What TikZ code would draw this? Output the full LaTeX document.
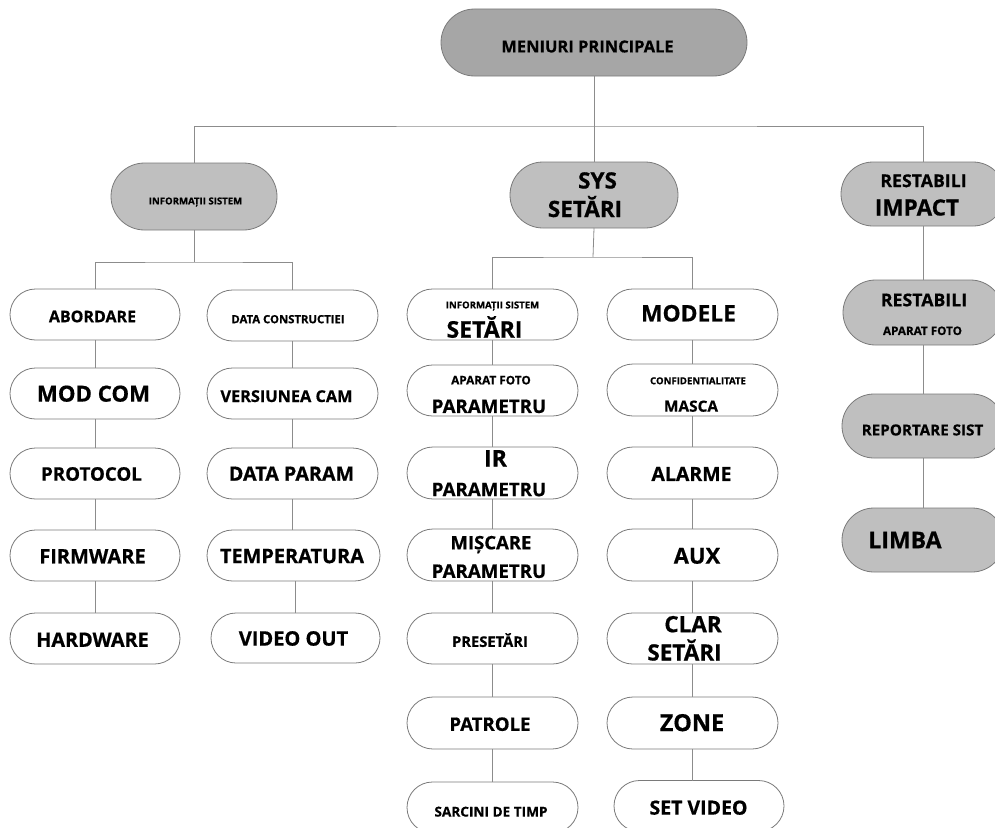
\documentclass[tikz,border=0pt]{standalone}
\usepackage{fontspec}
\setmainfont{Open Sans}[BoldFeatures={FakeBold=0.6}]
\usetikzlibrary{shapes.misc}
\definecolor{darkfill}{HTML}{A6A6A6}
\definecolor{lightfill}{HTML}{BFBFBF}
\definecolor{edgegray}{HTML}{7A7A7A}
\definecolor{linegray}{HTML}{8C8C8C}
\tikzset{
  pill/.style={rounded rectangle, draw=edgegray, line width=0.8bp, inner sep=0pt, outer sep=0pt},
  rootbox/.style={pill, fill=darkfill},
  graybox/.style={pill, fill=lightfill},
  whitebox/.style={pill, fill=white},
  conn/.style={draw=linegray, line width=0.8bp},
  lbl/.style={anchor=base, inner sep=0pt, outer sep=0pt}
}
% box: style, name, cx, cy, width, height
\newcommand\bx[6]{\node[#1, minimum width=#5bp, minimum height=#6bp] (#2) at (#3,#4) {};}
% text: name, cx, cy (cap centre), size, text
\newcommand\tx[5]{\node[lbl, font=\bfseries\fontsize{#4bp}{#4bp}\selectfont] (#1) at ({#2},{#3+0.357*#4}) {#5};}
\begin{document}
\begin{tikzpicture}[x=1bp,y=-1bp]
\useasboundingbox (0,0) rectangle (995,828);
\coordinate (b0) at (594,126);
\coordinate (b1) at (194,262);
\coordinate (b2) at (593,257);
% boxes
\bx{rootbox}{root}{594}{42.5}{306}{67}
\bx{graybox}{info}{194}{196.5}{166}{67}
\bx{graybox}{sys}{594}{195}{168}{66}
\bx{graybox}{r1}{923}{194}{164}{64}
\bx{graybox}{r2}{923}{312.5}{160}{65}
\bx{graybox}{r3}{923}{426}{162}{64}
\bx{graybox}{r4}{923}{540}{162}{64}
% left subtree
\bx{whitebox}{a1}{95}{314.5}{170}{51}
\bx{whitebox}{a2}{95}{393.5}{170}{51}
\bx{whitebox}{a3}{95}{473.5}{170}{51}
\bx{whitebox}{a4}{95}{555.5}{170}{51}
\bx{whitebox}{a5}{95}{638.5}{170}{51}
\bx{whitebox}{d1}{292.5}{315.5}{171}{51}
\bx{whitebox}{d2}{292.5}{393.5}{171}{51}
\bx{whitebox}{d3}{292.5}{473.5}{171}{51}
\bx{whitebox}{d4}{293.5}{555.5}{173}{51}
\bx{whitebox}{d5}{295.5}{638}{169}{50}
% middle subtree
\bx{whitebox}{m1}{492.5}{314.5}{171}{51}
\bx{whitebox}{m2}{492.5}{390.5}{171}{51}
\bx{whitebox}{m3}{492.5}{473}{171}{52}
\bx{whitebox}{m4}{492.5}{555}{171}{52}
\bx{whitebox}{m5}{492.5}{638.5}{171}{51}
\bx{whitebox}{m6}{492.5}{723}{171}{52}
\bx{whitebox}{m7}{492.5}{807.5}{171}{51}
\bx{whitebox}{n1}{692.5}{314.5}{171}{51}
\bx{whitebox}{n2}{692.5}{390}{171}{52}
\bx{whitebox}{n3}{692.5}{473}{171}{52}
\bx{whitebox}{n4}{692.5}{555}{171}{52}
\bx{whitebox}{n5}{692.5}{638.5}{171}{51}
\bx{whitebox}{n6}{692.5}{723}{171}{52}
\bx{whitebox}{n7}{699}{806}{170}{51}
% connectors
\draw[conn] (root.south) -- (b0);
\draw[conn] (info.north) |- (b0) -| (r1.north);
\draw[conn] (b0) -- (sys.north);
\draw[conn] (info.south) -- (b1);
\draw[conn] (a1.north) |- (b1) -| (d1.north);
\draw[conn] (sys.south) -- (b2);
\draw[conn] (m1.north) |- (b2) -| (n1.north);
\draw[conn] (a1.south) -- (a2.north);
\draw[conn] (a2.south) -- (a3.north);
\draw[conn] (a3.south) -- (a4.north);
\draw[conn] (a4.south) -- (a5.north);
\draw[conn] (d1.south) -- (d2.north);
\draw[conn] (d2.south) -- (d3.north);
\draw[conn] (d3.south) -- (d3.south |- d4.north);
\draw[conn] (d5.north) -- (d5.north |- d4.south);
\draw[conn] (m1.south) -- (m2.north);
\draw[conn] (m2.south) -- (m3.north);
\draw[conn] (m3.south) -- (m4.north);
\draw[conn] (m4.south) -- (m5.north);
\draw[conn] (m5.south) -- (m6.north);
\draw[conn] (m6.south) -- (m7.north);
\draw[conn] (n1.south) -- (n2.north);
\draw[conn] (n2.south) -- (n3.north);
\draw[conn] (n3.south) -- (n4.north);
\draw[conn] (n4.south) -- (n5.north);
\draw[conn] (n5.south) -- (n6.north);
\draw[conn] (n6.south) -- (n6.south |- n7.north);
\draw[conn] (r1.south) -- (r2.north);
\draw[conn] (r2.south) -- (r3.north);
\draw[conn] (r3.south) -- (r4.north);
% texts
\tx{troot}{587.5}{46.5}{16.5}{MENIURI PRINCIPALE}
\tx{tinfo}{195.5}{201}{9.6}{INFORMAȚII SISTEM}
\tx{tsys1}{597.5}{180.5}{22.5}{SYS}
\tx{tsys2}{585}{209}{22.5}{SETĂRI}
\tx{tr1a}{923.5}{180.8}{17.7}{RESTABILI}
\tx{tr1b}{917}{207.5}{22.5}{IMPACT}
\tx{tr2a}{924}{300}{17.7}{RESTABILI}
\tx{tr2b}{922.5}{330.8}{11.7}{APARAT FOTO}
\tx{tr3}{922.5}{430}{15.2}{REPORTARE SIST}
\tx{tr4}{905}{540}{23}{LIMBA}
\tx{ta1}{92.5}{316.5}{16}{ABORDARE}
\tx{ta2}{93.5}{393.7}{22.2}{MOD COM}
\tx{ta3}{91.5}{474}{18.7}{PROTOCOL}
\tx{ta4}{92.5}{556.3}{20}{FIRMWARE}
\tx{ta5}{92.5}{639.7}{19.8}{HARDWARE}
\tx{td1}{288}{319.2}{11.3}{DATA CONSTRUCTIEI}
\tx{td2}{286.5}{396.2}{16.3}{VERSIUNEA CAM}
\tx{td3}{291.5}{473.7}{19.7}{DATA PARAM}
\tx{td4}{292}{556}{19.9}{TEMPERATURA}
\tx{td5}{293.5}{638.5}{20}{VIDEO OUT}
\tx{tm1a}{492.5}{305}{9.6}{INFORMAȚII SISTEM}
\tx{tm1b}{484.5}{329.5}{23}{SETĂRI}
\tx{tm2a}{491}{380.2}{11.8}{APARAT FOTO}
\tx{tm2b}{489}{406.3}{18.7}{PARAMETRU}
\tx{tm3a}{495.5}{458.3}{23}{IR}
\tx{tm3b}{489}{489.5}{18.7}{PARAMETRU}
\tx{tm4a}{491}{542.7}{18.5}{MIȘCARE}
\tx{tm4b}{489}{571.2}{18.7}{PARAMETRU}
\tx{tm5}{490}{641.7}{14.7}{PRESETĂRI}
\tx{tm6}{490}{724.2}{18.6}{PATROLE}
\tx{tm7}{491}{811.7}{13.6}{SARCINI DE TIMP}
\tx{tn1}{688.5}{313.3}{22.8}{MODELE}
\tx{tn2a}{698}{380.8}{9.6}{CONFIDENTIALITATE}
\tx{tn2b}{691}{406.2}{15.4}{MASCA}
\tx{tn3}{691.5}{474}{19.5}{ALARME}
\tx{tn4}{697}{555.8}{22}{AUX}
\tx{tn5a}{693}{624.2}{22.5}{CLAR}
\tx{tn5b}{684.5}{652.5}{22.5}{SETĂRI}
\tx{tn6}{692}{722.7}{23.5}{ZONE}
\tx{tn7}{698.5}{807.7}{19.5}{SET VIDEO}
\end{tikzpicture}
\end{document}
